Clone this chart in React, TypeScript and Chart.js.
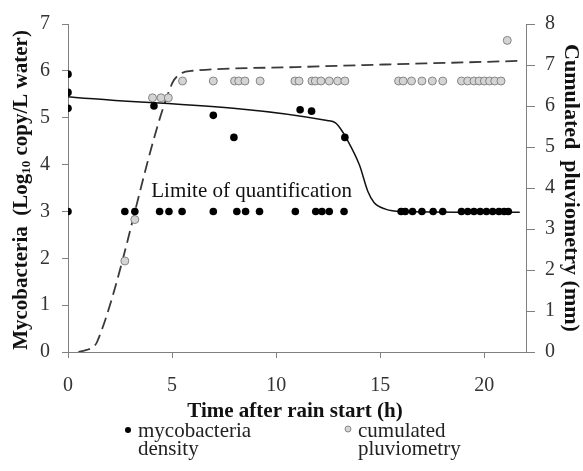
import React, { useEffect, useRef } from "react";
import { Chart, registerables } from "chart.js";

Chart.register(...registerables);

// Observed mycobacteria density (left axis, log10 copy/L water)
const densityTime = [
  0, 0, 0, 4.13, 6.98, 7.97, 11.15, 11.7, 13.3,
  0, 2.73, 3.21, 4.4, 4.85, 5.48, 6.98, 8.11, 8.53, 9.2, 10.92,
  11.9, 12.2, 12.55, 13.26, 16.0, 16.2, 16.55, 17.0, 17.54, 18.0,
  18.9, 19.2, 19.5, 19.8, 20.1, 20.4, 20.7, 20.95, 21.15,
];
const densityValue = [
  5.93, 5.54, 5.2, 5.25, 5.05, 4.58, 5.17, 5.14, 4.58,
  3, 3, 3, 3, 3, 3, 3, 3, 3, 3, 3,
  3, 3, 3, 3, 3, 3, 3, 3, 3, 3,
  3, 3, 3, 3, 3, 3, 3, 3, 3,
];

// Observed cumulated pluviometry (right axis, mm)
const pluvioTime = [
  2.73, 3.21, 4.06, 4.47, 4.82,
  5.5, 6.98, 8.0, 8.2, 8.5, 9.23, 10.9, 11.1, 11.72, 11.88, 12.15, 12.55, 12.95, 13.3,
  15.88, 16.1, 16.5, 17.0, 17.5, 18.0,
  18.9, 19.2, 19.5, 19.75, 20.0, 20.25, 20.5, 20.8,
  21.1,
];
const pluvioValue = [
  2.22, 3.23, 6.2, 6.2, 6.2,
  6.61, 6.61, 6.61, 6.61, 6.61, 6.61, 6.61, 6.61, 6.61, 6.61, 6.61, 6.61, 6.61, 6.61,
  6.61, 6.61, 6.61, 6.61, 6.61, 6.61,
  6.61, 6.61, 6.61, 6.61, 6.61, 6.61, 6.61, 6.61,
  7.6,
];

// Fitted curves
const densityFitTime = [0, 12.45, 12.85, 13.1, 13.35, 14.0, 14.4, 14.7, 15.25, 16.0, 21.7];
const densityFitValue = [5.45, 4.94, 4.89, 4.76, 4.58, 3.99, 3.43, 3.19, 3.05, 3.0, 2.98];
const pluvioFitTime = [0.5, 0.9, 1.2, 1.4, 5.0, 5.3, 5.6, 6.0, 11.0, 21.7];
const pluvioFitValue = [0, 0.05, 0.12, 0.25, 6.55, 6.75, 6.83, 6.86, 6.95, 7.1];

const xTicks = [0, 5, 10, 15, 20];
const leftTicks = [0, 1, 2, 3, 4, 5, 6, 7];
const rightTicks = [0, 1, 2, 3, 4, 5, 6, 7, 8];

const xTitle = "Time after rain start (h)";
const leftTitleParts = ["Mycobacteria  (Log", "10", " copy/L water)"];
const rightTitle = "Cumulated  pluviometry (mm)";
const loqLabel = "Limite of quantification";
const loqX = 4.0;
const loqY = 3.3;
const legendDensity = ["mycobacteria", "density"];
const legendPluvio = ["cumulated", "pluviometry"];

const SERIF = '"Liberation Serif", "Times New Roman", serif';

const zip = (xs: number[], ys: number[]) => xs.map((x, i) => ({ x, y: ys[i] }));

const textPlugin = {
  id: "customTexts",
  afterDraw(chart: any) {
    const ctx: CanvasRenderingContext2D = chart.ctx;
    const xs = chart.scales.x;
    const yL = chart.scales.yL;
    ctx.save();
    ctx.fillStyle = "#111";

    // Limit of quantification label
    ctx.font = `21px ${SERIF}`;
    ctx.textAlign = "left";
    ctx.textBaseline = "alphabetic";
    ctx.fillText(loqLabel, xs.getPixelForValue(loqX), yL.getPixelForValue(loqY));

    // X title
    ctx.font = `bold 21px ${SERIF}`;
    ctx.textAlign = "center";
    ctx.fillText(xTitle, 295, 417);

    // Left title with subscript
    ctx.save();
    ctx.translate(22, 190);
    ctx.rotate(-Math.PI / 2);
    const big = `bold 21px ${SERIF}`;
    const small = `bold 13px ${SERIF}`;
    ctx.font = big;
    const w0 = ctx.measureText(leftTitleParts[0]).width;
    const w2 = ctx.measureText(leftTitleParts[2]).width;
    ctx.font = small;
    const w1 = ctx.measureText(leftTitleParts[1]).width;
    let cx = -(w0 + w1 + w2) / 2;
    ctx.textAlign = "left";
    ctx.textBaseline = "middle";
    ctx.font = big;
    ctx.fillText(leftTitleParts[0], cx, 0);
    cx += w0;
    ctx.font = small;
    ctx.fillText(leftTitleParts[1], cx, 5);
    cx += w1;
    ctx.font = big;
    ctx.fillText(leftTitleParts[2], cx, 0);
    ctx.restore();

    // Right title
    ctx.save();
    ctx.translate(571, 188);
    ctx.rotate(Math.PI / 2);
    ctx.font = `bold 22px ${SERIF}`;
    ctx.textAlign = "center";
    ctx.textBaseline = "middle";
    ctx.fillText(rightTitle, 0, 0);
    ctx.restore();

    // Legend
    ctx.font = `21px ${SERIF}`;
    ctx.textAlign = "left";
    ctx.textBaseline = "alphabetic";
    ctx.fillStyle = "#000";
    ctx.beginPath();
    ctx.arc(128, 430, 3, 0, Math.PI * 2);
    ctx.fill();
    ctx.fillStyle = "#222";
    ctx.fillText(legendDensity[0], 138, 437);
    ctx.fillText(legendDensity[1], 138, 455);

    ctx.beginPath();
    ctx.arc(348, 429, 3, 0, Math.PI * 2);
    ctx.fillStyle = "#d4d4d4";
    ctx.fill();
    ctx.strokeStyle = "#888";
    ctx.lineWidth = 1;
    ctx.stroke();
    ctx.fillStyle = "#222";
    ctx.fillText(legendPluvio[0], 358, 437);
    ctx.fillText(legendPluvio[1], 358, 455);

    ctx.restore();
  },
};

export default function App() {
  const ref = useRef<HTMLCanvasElement>(null);

  useEffect(() => {
    if (!ref.current) return;
    const tickFont = { family: SERIF, size: 20 };
    const chart = new Chart(ref.current, {
      type: "scatter",
      data: {
        datasets: [
          {
            label: "mycobacteria density",
            data: zip(densityTime, densityValue),
            yAxisID: "yL",
            pointRadius: 3.8,
            pointBackgroundColor: "#000",
            pointBorderColor: "#000",
            pointBorderWidth: 0,
            showLine: false,
            order: 1,
          },
          {
            label: "cumulated pluviometry",
            data: zip(pluvioTime, pluvioValue),
            yAxisID: "yR",
            pointRadius: 4,
            pointBackgroundColor: "#d4d4d4",
            pointBorderColor: "#858585",
            pointBorderWidth: 1,
            showLine: false,
            order: 2,
          },
          {
            label: "density fit",
            data: zip(densityFitTime, densityFitValue),
            yAxisID: "yL",
            showLine: true,
            pointRadius: 0,
            borderColor: "#111",
            borderWidth: 1.5,
            cubicInterpolationMode: "monotone",
            order: 3,
          },
          {
            label: "pluviometry fit",
            data: zip(pluvioFitTime, pluvioFitValue),
            yAxisID: "yR",
            showLine: true,
            pointRadius: 0,
            borderColor: "#3a3a3a",
            borderWidth: 1.8,
            borderDash: [12, 6],
            cubicInterpolationMode: "monotone",
            order: 4,
          },
        ],
      },
      options: {
        animation: false,
        responsive: true,
        maintainAspectRatio: false,
        layout: { padding: { top: 15, left: 0, right: 0, bottom: 0 } },
        plugins: {
          legend: { display: false },
          tooltip: { enabled: false },
        },
        scales: {
          x: {
            type: "linear",
            min: 0,
            max: 22,
            afterBuildTicks: (s: any) => {
              s.ticks = xTicks.map((v) => ({ value: v }));
            },
            afterFit: (s: any) => {
              s.height = 471 - 352;
            },
            ticks: { font: tickFont, color: "#333", padding: 16 },
            grid: { display: true, drawOnChartArea: false, drawTicks: true, tickLength: 6, color: "#808080" },
            border: { display: true, color: "#808080", width: 1 },
          },
          yL: {
            type: "linear",
            position: "left",
            min: 0,
            max: 7,
            afterBuildTicks: (s: any) => {
              s.ticks = leftTicks.map((v) => ({ value: v }));
            },
            afterFit: (s: any) => {
              s.width = 68;
            },
            ticks: { font: tickFont, color: "#333", padding: 12 },
            grid: { display: true, drawOnChartArea: false, drawTicks: true, tickLength: 6, color: "#808080" },
            border: { display: true, color: "#808080", width: 1 },
          },
          yR: {
            type: "linear",
            position: "right",
            min: 0,
            max: 8,
            afterBuildTicks: (s: any) => {
              s.ticks = rightTicks.map((v) => ({ value: v }));
            },
            afterFit: (s: any) => {
              s.width = 57;
            },
            ticks: { font: tickFont, color: "#333", padding: 10 },
            grid: { display: true, drawOnChartArea: false, drawTicks: true, tickLength: 9, color: "#808080" },
            border: { display: true, color: "#808080", width: 1 },
          },
        },
      },
      plugins: [textPlugin],
    } as any);
    return () => chart.destroy();
  }, []);

  return (
    <div style={{ position: "fixed", left: 0, top: 0, width: 583, height: 471, background: "#fff" }}>
      <canvas ref={ref} />
    </div>
  );
}
